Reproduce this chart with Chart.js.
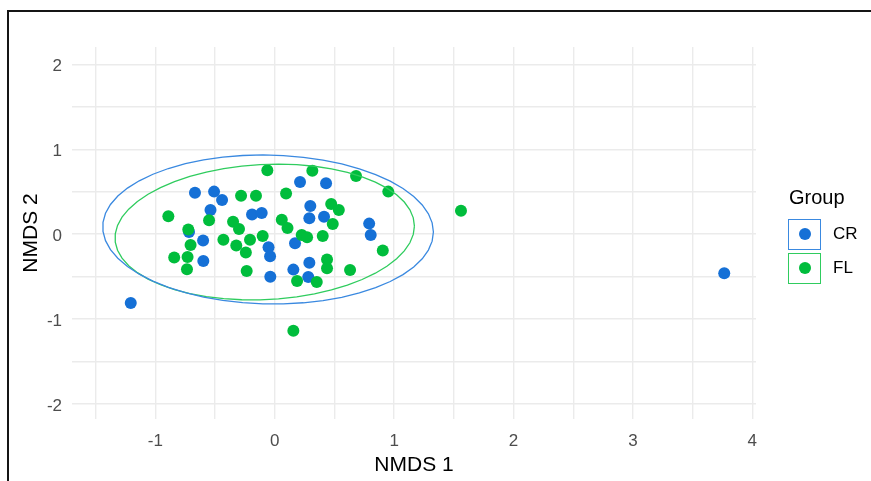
<!DOCTYPE html>
<html>
<head>
<meta charset="utf-8">
<script src="https://cdn.jsdelivr.net/npm/chart.js@4/dist/chart.umd.min.js"></script>
<style>
  html, body { margin: 0; padding: 0; background: #fff; overflow: hidden; }
  #wrap { position: relative; width: 871px; height: 481px; overflow: hidden; }
  #frame { position: absolute; left: 7px; top: 10px; width: 900px; height: 500px;
           border-top: 2px solid #151515; border-left: 2px solid #151515; pointer-events: none; }
  canvas { position: absolute; left: 0; top: 0; }
  #legend { position: absolute; left: 788px; top: 185px; font-family: "Liberation Sans", Arial, sans-serif; }
  #legend .title { font-size: 20px; line-height: 24px; color: #000; margin-left: 1px; margin-bottom: 8px; }
  #legend .item { display: flex; align-items: center; height: 34px; }
  #legend .key { box-sizing: border-box; width: 33px; height: 31px; border: 1.5px solid; position: relative; }
  #legend .key span { position: absolute; left: 50%; top: 50%; width: 12px; height: 12px; margin: -6px 0 0 -6px; border-radius: 50%; }
  #legend .label { font-size: 17px; color: #000; margin-left: 12px; }
</style>
</head>
<body>
<div id="wrap">
  <canvas id="chart" width="871" height="481"></canvas>
  <div id="frame"></div>
  <div id="legend"></div>
</div>
<script>
// NMDS site scores, one pair of arrays per group
const groupNames = ['CR', 'FL'];

const crX = [-1.206, 3.765, -0.668, -0.508, -0.441, -0.538, -0.718, -0.600, -0.598, -0.190,
             -0.109, -0.052, -0.039, -0.037, 0.212, 0.430, 0.298, 0.290, 0.413, 0.791,
             0.804, 0.170, 0.156, 0.290, 0.281];
const crY = [-0.810, -0.461, 0.489, 0.501, 0.403, 0.285, 0.026, -0.074, -0.316, 0.232,
             0.250, -0.154, -0.260, -0.501, 0.615, 0.600, 0.332, 0.187, 0.206, 0.124,
             -0.009, -0.107, -0.418, -0.336, -0.504];

const flX = [-0.062, -0.891, -0.550, -0.282, -0.157, 0.095, -0.724, -0.705, -0.842, -0.730,
             -0.735, -0.430, -0.349, -0.299, -0.322, -0.242, -0.207, -0.235, -0.101, 0.059,
             0.107, 0.315, 0.681, 0.951, 0.473, 0.537, 0.486, 0.226, 0.271, 0.402,
             0.905, 0.438, 0.438, 0.631, 0.187, 0.352, 0.156, 1.560];
const flY = [0.753, 0.211, 0.164, 0.453, 0.453, 0.479, 0.055, -0.127, -0.274, -0.269,
             -0.413, -0.065, 0.147, 0.061, -0.133, -0.216, -0.065, -0.433, -0.021, 0.170,
             0.073, 0.748, 0.686, 0.501, 0.356, 0.285, 0.120, -0.009, -0.037, -0.021,
             -0.192, -0.300, -0.402, -0.422, -0.551, -0.565, -1.137, 0.277];

// 95% ellipse per group: centre, half-width along NMDS 1, half-height along NMDS 2,
// and the NMDS 2 offset of the ellipse at its left/right extremes (its tilt)
const ellipseCenterX = [-0.056, -0.084];
const ellipseCenterY = [0.055, 0.025];
const ellipseHalfWidth = [1.385, 1.254];
const ellipseHalfHeight = [0.878, 0.800];
const ellipseTilt = [-0.030, 0.070];

const xTickLabels = [-1, 0, 1, 2, 3, 4];
const yTickLabels = [-2, -1, 0, 1, 2];

const pointColors = ['#1570d6', '#00bd3c'];
const ellipseColors = ['#3a89e0', '#2fcc5e'];

// Closed outline of 51 segments for group i
function ellipsePath(i, segments = 51) {
  const tilt = ellipseTilt[i];
  const ry = Math.sqrt(ellipseHalfHeight[i] ** 2 - tilt ** 2);
  const pts = [];
  for (let k = 0; k <= segments; k++) {
    const a = k * 2 * Math.PI / segments;
    pts.push({ x: ellipseCenterX[i] + ellipseHalfWidth[i] * Math.cos(a),
               y: ellipseCenterY[i] + tilt * Math.cos(a) + ry * Math.sin(a) });
  }
  return pts;
}

const toPoints = (xs, ys) => xs.map((x, i) => ({ x, y: ys[i] }));
const groupX = [crX, flX], groupY = [crY, flY];

const datasets = [];
groupNames.forEach((g, i) => {
  datasets.push({
    label: g + ' ellipse', data: ellipsePath(i),
    showLine: true, pointRadius: 0, borderColor: ellipseColors[i], borderWidth: 1.3,
    fill: false, tension: 0, order: 0
  });
});
groupNames.forEach((g, i) => {
  datasets.push({
    label: g, data: toPoints(groupX[i], groupY[i]),
    pointRadius: 6, pointHoverRadius: 6, pointBorderWidth: 0,
    backgroundColor: pointColors[i], borderColor: pointColors[i], order: 2 - i
  });
});

const tickFont = { family: '"Liberation Sans", Arial, sans-serif', size: 17 };
const titleFont = { family: '"Liberation Sans", Arial, sans-serif', size: 21 };
const gridOpts = { color: '#ebebeb', lineWidth: 1.4, drawTicks: false };
const labelIf = list => v => list.includes(Math.round(v * 100) / 100) ? String(v) : '';

new Chart(document.getElementById('chart'), {
  type: 'scatter',
  data: { datasets },
  options: {
    responsive: false,
    animation: false,
    layout: { padding: { top: 47, right: 115, left: 0, bottom: 0 } },
    plugins: { legend: { display: false }, tooltip: { enabled: false } },
    scales: {
      x: {
        type: 'linear', min: -1.698, max: 4.031,
        grid: gridOpts, border: { display: false },
        ticks: { stepSize: 0.5, includeBounds: false, autoSkip: false, maxRotation: 0,
                 padding: 12, color: '#4d4d4d', font: tickFont, callback: labelIf(xTickLabels) },
        title: { display: true, text: 'NMDS 1', color: '#000', font: titleFont, padding: { top: 0, bottom: 3 } },
        afterFit: s => { s.height = 62; }
      },
      y: {
        type: 'linear', min: -2.178, max: 2.205,
        grid: gridOpts, border: { display: false },
        ticks: { stepSize: 0.5, includeBounds: false, autoSkip: false, labelOffset: 2,
                 padding: 10, color: '#4d4d4d', font: tickFont, callback: labelIf(yTickLabels) },
        title: { display: true, text: 'NMDS 2', color: '#000', font: titleFont, padding: { top: 19, bottom: 0 } },
        afterFit: s => { s.width = 72; }
      }
    }
  }
});

// Legend: key boxes carry the ellipse colour, the dot carries the point colour
const legend = document.getElementById('legend');
const title = document.createElement('div');
title.className = 'title';
title.textContent = 'Group';
legend.appendChild(title);
groupNames.forEach((g, i) => {
  const item = document.createElement('div');
  item.className = 'item';
  const key = document.createElement('div');
  key.className = 'key';
  key.style.borderColor = ellipseColors[i];
  const dot = document.createElement('span');
  dot.style.background = pointColors[i];
  key.appendChild(dot);
  const label = document.createElement('div');
  label.className = 'label';
  label.textContent = g;
  item.appendChild(key);
  item.appendChild(label);
  legend.appendChild(item);
});
</script>
</body>
</html>
